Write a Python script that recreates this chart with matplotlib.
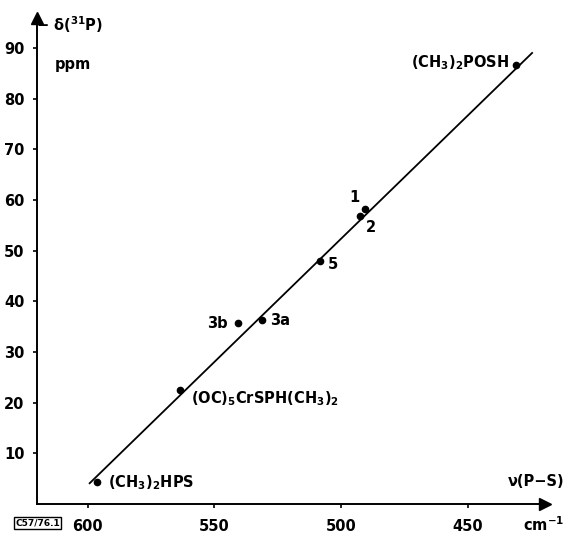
import matplotlib
matplotlib.use("Agg")
import matplotlib.pyplot as plt

# Data
nu_ps = [596.4, 563.6, 540.7, 531.2, 508.3, 490.5, 492.5, 430.8]
delta_p = [4.3, 22.5, 35.7, 36.3, 47.9, 58.2, 56.8, 86.6]
labels = ["(CH$_3$)$_2$HPS", "(OC)$_5$CrSPH(CH$_3$)$_2$", "3b", "3a", "5", "1", "2",
          "(CH$_3$)$_2$POSH"]
fit_x = [599.2, 424.5]
fit_y = [4.1, 89.0]
x_ticks = [600, 550, 500, 450]
y_ticks = [10, 20, 30, 40, 50, 60, 70, 80, 90]

plt.rcParams['font.family'] = ['DejaVu Sans']
plt.rcParams['font.weight'] = 'bold'
plt.rcParams['mathtext.fontset'] = 'custom'
plt.rcParams['mathtext.rm'] = 'DejaVu Sans:bold'
plt.rcParams['mathtext.it'] = 'DejaVu Sans:bold'
plt.rcParams['mathtext.bf'] = 'DejaVu Sans:bold'
plt.rcParams['mathtext.default'] = 'bf'

fig = plt.figure(figsize=(5.74, 5.35), dpi=100)
ax = fig.add_axes([37/574, 31/535, (545-37)/574, (517-31)/535])
ax.set_xlim(620, 419.4)
ax.set_ylim(0, 95.9)
for s in ("top", "right"):
    ax.spines[s].set_visible(False)
for s in ("left", "bottom"):
    ax.spines[s].set_linewidth(1.4)

ax.set_xticks(x_ticks)
ax.set_yticks(y_ticks)
ax.tick_params(direction="out", length=3, width=1.2, labelsize=10.5, pad=6)
ax.tick_params(axis="x", pad=8)
for lab in ax.get_xticklabels() + ax.get_yticklabels():
    lab.set_fontweight("bold")

# arrow heads
ax.plot(1, 0, ">k", transform=ax.transAxes, clip_on=False, markersize=8)
ax.plot(0, 1, "^k", transform=ax.transAxes, clip_on=False, markersize=8)

ax.plot(fit_x, fit_y, color="black", lw=1.3)
ax.plot(nu_ps, delta_p, "o", color="black", markersize=4.5)

fs = 10.5
# label placements (offsets in points)
offsets = [(8, 0, "left"), (8, -6, "left"), (-7, 0, "right"), (6, 0, "left"),
           (6, -2, "left"), (-4, 8, "right"), (4, -8, "left"), (-5, 2, "right")]
for x, y, t, (dx, dy, ha) in zip(nu_ps, delta_p, labels, offsets):
    ax.annotate(t, (x, y), xytext=(dx, dy), textcoords="offset points",
                ha=ha, va="center", fontsize=fs, fontweight="bold")

fig.text(36/574, 1 - 25/535, "− δ($^{31}$P)", fontsize=fs, ha="left", va="center",
         fontweight="bold")
fig.text(55/574, 1 - 64/535, "ppm", fontsize=fs, ha="left", va="center",
         fontweight="bold")
fig.text(508/574, 1 - 482/535, "ν(P−S)", fontsize=fs, ha="left", va="center",
         fontweight="bold")
fig.text(523/574, 1 - 525/535, "cm$^{-1}$", fontsize=fs, ha="left", va="center",
         fontweight="bold")
fig.text(15/574, 1 - 523/535, "C57/76.1", fontsize=6.5, ha="left", va="center",
         fontweight="bold",
         bbox=dict(boxstyle="square,pad=0.15", fc="white", ec="black", lw=1))

fig.savefig("out.png", dpi=100)
